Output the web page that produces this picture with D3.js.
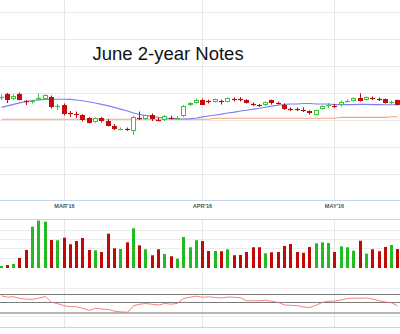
<!DOCTYPE html>
<html><head><meta charset="utf-8">
<script src="https://cdn.jsdelivr.net/npm/d3@7"></script>
<style>html,body{margin:0;padding:0;background:#fff;overflow:hidden}</style>
</head><body><svg id="c" width="400" height="334"></svg>
<script>
const title = "June 2-year Notes";
const dates = ["2016-02-16","2016-02-17","2016-02-18","2016-02-19","2016-02-22","2016-02-23","2016-02-24","2016-02-25","2016-02-26","2016-02-29",
"2016-03-01","2016-03-02","2016-03-03","2016-03-04","2016-03-07","2016-03-08","2016-03-09","2016-03-10","2016-03-11","2016-03-14",
"2016-03-15","2016-03-16","2016-03-17","2016-03-18","2016-03-21","2016-03-22","2016-03-23","2016-03-24","2016-03-28","2016-03-29",
"2016-03-30","2016-03-31","2016-04-01","2016-04-04","2016-04-05","2016-04-06","2016-04-07","2016-04-08","2016-04-11","2016-04-12",
"2016-04-13","2016-04-14","2016-04-15","2016-04-18","2016-04-19","2016-04-20","2016-04-21","2016-04-22","2016-04-25","2016-04-26",
"2016-04-27","2016-04-28","2016-04-29","2016-05-02","2016-05-03","2016-05-04","2016-05-05","2016-05-06","2016-05-09","2016-05-10",
"2016-05-11","2016-05-12","2016-05-13","2016-05-16"];
const open  = [108.984,109.000,108.979,109.002,108.968,108.964,108.980,108.977,108.988,108.941,
108.951,108.914,108.912,108.903,108.888,108.870,108.889,108.877,108.854,108.838,
108.839,108.829,108.891,108.883,108.904,108.884,108.880,108.893,108.889,108.896,
108.947,108.958,108.974,108.970,108.963,108.971,108.965,108.981,108.981,108.974,
108.956,108.951,108.947,108.971,108.961,108.951,108.933,108.933,108.928,108.920,
108.905,108.931,108.947,108.947,108.947,108.967,108.968,108.980,108.972,108.984,
108.979,108.977,108.962,108.972];
const high  = [108.998,109.005,108.998,109.007,108.972,108.974,109.002,108.998,108.993,108.954,
108.956,108.921,108.919,108.907,108.893,108.891,108.893,108.884,108.861,108.845,
108.845,108.900,108.919,108.905,108.910,108.891,108.903,108.900,108.898,108.949,
108.963,108.979,108.979,108.974,108.979,108.974,108.984,108.984,108.986,108.977,
108.961,108.954,108.965,108.974,108.965,108.956,108.938,108.938,108.938,108.924,
108.928,108.947,108.958,108.954,108.970,108.974,108.984,109.003,108.989,108.988,
108.984,108.979,108.970,108.974];
const low   = [108.972,108.958,108.972,108.970,108.949,108.956,108.970,108.974,108.933,108.926,
108.900,108.893,108.889,108.873,108.863,108.866,108.868,108.850,108.833,108.833,
108.829,108.810,108.880,108.880,108.875,108.873,108.875,108.882,108.884,108.893,
108.944,108.956,108.949,108.956,108.961,108.951,108.964,108.965,108.965,108.956,
108.944,108.940,108.944,108.951,108.951,108.926,108.921,108.921,108.917,108.905,
108.900,108.928,108.935,108.935,108.942,108.961,108.965,108.965,108.970,108.972,
108.968,108.956,108.951,108.947];
const close = [108.988,108.974,108.991,108.974,108.963,108.968,108.984,108.995,108.942,108.944,
108.907,108.907,108.905,108.880,108.867,108.887,108.873,108.854,108.837,108.841,
108.833,108.892,108.887,108.901,108.882,108.877,108.898,108.887,108.891,108.944,
108.958,108.974,108.951,108.966,108.977,108.964,108.981,108.977,108.975,108.958,
108.951,108.947,108.963,108.958,108.956,108.931,108.928,108.928,108.925,108.910,
108.924,108.944,108.950,108.943,108.965,108.970,108.981,108.968,108.987,108.979,
108.975,108.958,108.965,108.949];
const volume = [22000,32000,43000,108000,194000,444000,510000,498000,301000,298000,
326000,255000,290000,323000,194000,190000,172000,369000,212000,204000,
276000,427000,244000,201000,137000,201000,151000,126000,100000,333000,
223000,298000,290000,183000,183000,180000,201000,137000,140000,172000,
223000,223000,158000,169000,172000,237000,258000,172000,164000,226000,
266000,276000,269000,172000,233000,223000,186000,293000,154000,201000,
180000,226000,247000,204000];
const maFast = [108.938,108.945,108.952,108.959,108.965,108.970,108.973,108.975,108.975,108.976,
108.976,108.975,108.972,108.969,108.963,108.958,108.952,108.945,108.938,108.930,
108.921,108.912,108.905,108.900,108.896,108.892,108.889,108.887,108.885,108.884,
108.886,108.889,108.894,108.898,108.903,108.907,108.912,108.916,108.921,108.925,
108.930,108.934,108.939,108.944,108.948,108.952,108.954,108.954,108.956,108.956,
108.954,108.954,108.954,108.951,108.951,108.951,108.951,108.952,108.952,108.951,
108.951,108.950,108.950,108.950];
const maSlow = [108.883,108.883,108.883,108.883,108.883,108.883,108.883,108.883,108.883,108.883,
108.883,108.883,108.883,108.883,108.883,108.883,108.883,108.883,108.883,108.883,
108.883,108.883,108.883,108.883,108.883,108.883,108.883,108.883,108.883,108.883,
108.883,108.883,108.883,108.883,108.888,108.888,108.888,108.888,108.888,108.888,
108.888,108.888,108.888,108.888,108.888,108.888,108.888,108.888,108.888,108.888,
108.888,108.888,108.888,108.888,108.892,108.892,108.892,108.892,108.892,108.892,
108.892,108.892,108.895,108.895];
const osc = [67.4,64.2,65.3,61.6,59.5,59.3,61.9,65.8,52.3,49.5,
44.2,42.1,42.1,38.4,33.7,38.4,36.7,35.6,31.6,30.2,
29.1,44.2,47.7,49.5,47.7,46.0,49.5,47.9,50.0,61.2,
64.2,66.5,64.0,65.1,63.5,62.3,64.4,64.0,63.0,56.0,
55.8,55.8,57.0,54.9,51.9,46.0,45.3,44.4,41.4,40.2,
46.0,52.3,54.7,55.3,58.1,61.2,62.1,61.6,62.6,60.0,
56.0,53.0,51.2,44.4];
const monthTicks = ["2016-03-01","2016-04-01","2016-05-02"];
const monthLabels = ["MAR'16","APR'16","MAY'16"];
const priceGrid = [108.625,108.75,108.875,109.0,109.125,109.25,109.375];
const volumeGrid = [100000,200000,300000,400000];
const oscGrid = [84,17.5];
const oscLevels = [70,50];
const oscFloor = [27];

const svg = d3.select("#c");
const x = d3.scaleBand().domain(dates).range([-2.65,400.55]).paddingInner(0).paddingOuter(0);
const cx = d => Math.round(x(d) + x.bandwidth()/2);
const y = d3.scaleLinear().domain([108.5,109.5]).range([202,-14]);
const vy = d3.scaleLinear().domain([0,516000]).range([268,220]);
const oy = d3.scaleLinear().domain([0,100]).range([324.8,281.8]);
const hl = (g,yy,x0,x1,col,w) => g.append("line").attr("x1",x0).attr("x2",x1).attr("y1",yy).attr("y2",yy).attr("stroke",col).attr("stroke-width",w||1);

const grid = svg.append("g");
priceGrid.forEach(v => hl(grid, Math.round(y(v))-0.5, 0, 400, "#e9e9e9"));
volumeGrid.forEach(v => hl(grid, Math.round(vy(v))-0.5, 0, 400, "#ececec"));
oscGrid.forEach(v => hl(grid, Math.round(oy(v))-0.5, 0, 400, "#ececec"));
monthTicks.forEach(t => {
  const xx = cx(t)+0.5;
  [[0,201],[220,268],[270,327]].forEach(([a,b]) =>
    grid.append("line").attr("x1",xx).attr("x2",xx).attr("y1",a).attr("y2",b).attr("stroke","#e6e6e6"));
});
[200.5,219.5,327.5].forEach(yy => hl(svg, yy, 0, 400, "#c7d5e8"));

svg.append("text").attr("x",92.5).attr("y",59.5).text(title)
  .attr("font-family","'Liberation Sans', Arial, sans-serif").attr("font-size",18.5).attr("fill","#111");

monthTicks.forEach((t,i) => {
  svg.append("text").attr("x",cx(t)+0.5).attr("y",207.8).attr("text-anchor","middle")
    .attr("font-family","'Liberation Sans', Arial, sans-serif").attr("font-weight","bold")
    .attr("font-size",5.6).attr("fill","#555").text(monthLabels[i]);
});

const lineGen = arr => d3.line().x((d,i)=>cx(dates[i])+0.5).y(d=>y(d))(arr);
svg.append("path").attr("d",lineGen(maSlow)).attr("fill","none").attr("stroke","#f3a57a").attr("stroke-width",1.1);
svg.append("path").attr("d",lineGen(maFast)).attr("fill","none").attr("stroke","#7f7ff0").attr("stroke-width",1.1);

const RED="#c30d0d", GREEN="#3cc43c";
const cg = svg.append("g");
dates.forEach((d,i) => {
  const o=open[i], c=close[i], h=high[i], l=low[i];
  const up = c >= o;
  const col = up ? GREEN : RED;
  const xc = cx(d);
  cg.append("line").attr("x1",xc+0.5).attr("x2",xc+0.5).attr("y1",y(h)).attr("y2",y(l)).attr("stroke",col);
  const top = y(Math.max(o,c)), bot = y(Math.min(o,c));
  if (bot - top < 1.6) {
    const yy = Math.round((top+bot)/2)+0.5;
    cg.append("line").attr("x1",xc-2).attr("x2",xc+3).attr("y1",yy).attr("y2",yy).attr("stroke",col).attr("stroke-width",1.2);
  } else if (up) {
    const t = Math.round(top), b = Math.round(bot);
    cg.append("rect").attr("x",xc-1.5).attr("y",t+0.5).attr("width",4).attr("height",Math.max(1,b-t-1))
      .attr("fill","#fff").attr("stroke",col);
  } else {
    const t = Math.round(top), b = Math.round(bot);
    cg.append("rect").attr("x",xc-2).attr("y",t).attr("width",5).attr("height",Math.max(1,b-t)).attr("fill",col);
  }
});

const vg = svg.append("g");
dates.forEach((d,i) => {
  const up = close[i] >= open[i];
  vg.append("rect").attr("x",cx(d)-1).attr("width",3).attr("y",vy(volume[i])).attr("height",268-vy(volume[i]))
    .attr("fill", up ? "#22bb22" : "#c00a0a");
});

oscLevels.forEach(v => hl(svg, Math.round(oy(v))-0.5, 0, 400, "#7c7c7c"));
oscFloor.forEach(v => hl(svg, Math.round(oy(v)), 0, 400, "#b5b5b5", 2));
svg.append("path").attr("d", d3.line().x((d,i)=>cx(dates[i])+0.5).y(d=>oy(d))(osc))
  .attr("fill","none").attr("stroke","#f06a6a").attr("stroke-opacity",0.85).attr("stroke-width",1);
</script>
</body></html>
